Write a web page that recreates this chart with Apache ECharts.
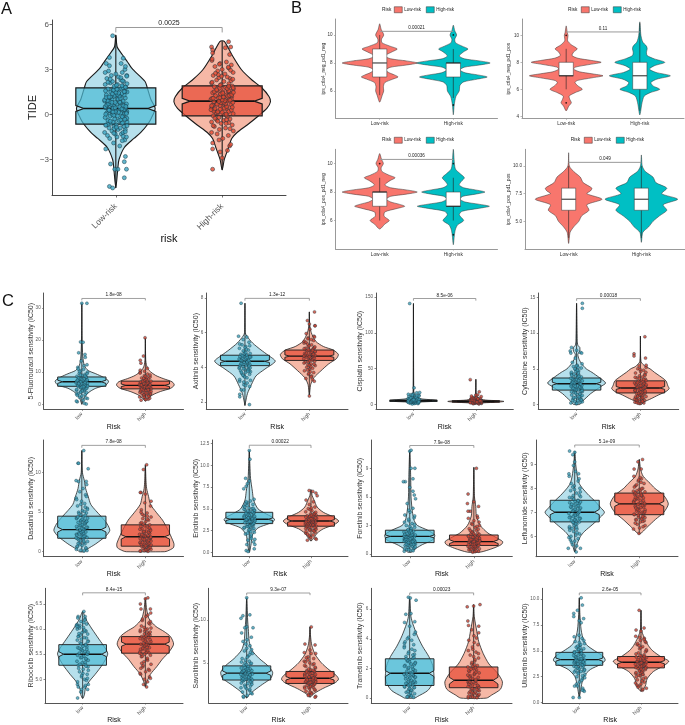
<!DOCTYPE html>
<html><head><meta charset="utf-8">
<style>html,body{margin:0;padding:0;background:#fff}#c{width:685px;height:725px}</style>
<script src="https://cdn.jsdelivr.net/npm/echarts@6/dist/echarts.min.js"></script>
</head><body><div id="c"></div>
<script>
const riskCats=['Low-risk','High-risk'], drugCats=['low','high'];
const jitter=[-.9,.35,-.2,.8,-.55,.1,.95,-.75,.5,-.05,-1,.65,-.35,.2,.85,-.6,.4,-.15,.75,-.85,.05,.55,-.45,1,-.25,.3,-.7,.9,-.1,.6,-.95,.15,-.5,.7,-.3,.45,-.8,.25,.98,-.4,0,.58,-.65,.82,-.18,.38,-.92];

// Panel A
const aLowShape=[[5.3,0],[4.5,.013],[4,.06],[3.5,.11],[3,.16],[2.2,.275],[1.8,.295],[1,.33],[.4,.37],[-.3,.33],[-.65,.3],[-1.2,.235],[-1.6,.17],[-2.2,.08],[-3,.03],[-3.5,.02],[-4.9,0]];
const aHighShape=[[4.88,.02],[4,.09],[3,.18],[2.3,.28],[1.8,.37],[1.2,.44],[.85,.454],[.4,.42],[-.1,.34],[-.7,.235],[-1.2,.14],[-1.6,.09],[-2.2,.06],[-3,.02],[-3.7,0]];
const aLowBox=[-4.9,-.65,.2,.4,.6,1.78,5.3], aHighBox=[-3.7,-.09,.71,.89,1.07,1.91,4.88];
const aLowPts=[-2.3,-2.1,-1.9,-1.7,-1.6,-1.5,-1.5,-1.4,-1.3,-1.3,-1.2,-1.2,-1.1,-1,-1,-.9,-.9,-.8,-.8,-.7,-.7,-.6,-.6,-.5,-.5,-.4,-.4,-.3,-.3,-.2,-.2,-.1,-.1,0,0,.1,.1,.15,.2,.2,.25,.3,.3,.35,.4,.4,.45,.5,.5,.55,.6,.6,.7,.7,.75,.8,.8,.9,.9,1,1,1.1,1.1,1.2,1.2,1.3,1.3,1.4,1.4,1.5,1.5,1.6,1.7,1.7,1.8,1.8,1.9,2,2,2.1,2.2,2.2,2.3,2.4,2.5,2.6,2.6,2.7,2.8,2.9,3];
const aLowCore=[-1.45,-1.15,-.95,-.85,-.75,-.65,-.55,-.45,-.35,-.25,-.15,-.05,.02,.08,.12,.18,.22,.28,.33,.38,.42,.47,.52,.58,.63,.68,.72,.78,.83,.87,.92,.97,1.03,1.08,1.13,1.18,1.23,1.28,1.33,1.38,1.43,1.48,1.53,1.58,1.63,1.68,1.73,1.78,1.83,1.88,1.95,2.05,2.15,2.25,2.35,2.45,2.55,-1.75,-1.25,-.72,-.32,.06,.44,.81,1.17,1.52,1.92,.16,.54];
const aLowTail=[[-.06,-4.8],[-.03,-4.9],[.08,-4.22],[.1,-3.65],[.08,-3.15],[.09,-2.8],[-.01,-3.65],[-.05,-3.3],[.02,-3.65],[-.03,5.25],[-.06,3.8],[-.09,3.4],[-.06,3.25],[.07,3.75],[.05,3.4],[-.1,2.8],[.09,3.2]];
const aHighPts=[-1.9,-1.6,-1.4,-1.3,-1.1,-1,-.9,-.8,-.7,-.6,-.55,-.5,-.4,-.35,-.3,-.2,-.15,-.1,0,.05,.1,.15,.2,.25,.3,.35,.4,.45,.5,.55,.6,.65,.7,.75,.8,.85,.9,.95,1,1.05,1.1,1.15,1.2,1.25,1.3,1.35,1.4,1.45,1.5,1.55,1.6,1.7,1.75,1.8,1.85,1.9,2,2.05,2.1,2.2,2.3,2.4,2.45,2.5,2.6,2.7,2.8,2.9,3,3.1,3.2,3.3,3.4,3.5,3.6,3.7];
const aHighCore=[-1.2,-.95,-.75,-.45,-.25,-.05,.03,.12,.22,.32,.42,.52,.62,.68,.72,.78,.82,.87,.92,.97,1.02,1.07,1.12,1.17,1.22,1.27,1.32,1.37,1.42,1.47,1.52,1.58,1.65,1.72,1.78,1.88,1.95,2.15,2.25,2.35,2.55,2.65,2.75,2.95,3.15,3.35,.48,.58,.95,1.08,.18,.38,-.35,-.6];
const aHighTail=[[-.09,-3.65],[-.09,-2.3],[.07,-2.1],[.08,-2],[.05,-2.4],[-.02,-2.5],[0,-2.9],[-.1,4.5],[-.09,4.3],[-.09,4.1],[.06,4.85],[.03,4.45],[.08,4.5],[.07,4],[-.03,-1.7]];

// Panel B
const b1LowShape=[[10.8,0],[10.4,.02],[10,.055],[9.7,.025],[9.45,.03],[9.2,.14],[9,.24],[8.8,.17],[8.5,.07],[8.3,.15],[8.15,.36],[8,.51],[7.85,.36],[7.7,.15],[7.5,.08],[7.3,.13],[7.15,.2],[7,.25],[6.85,.18],[6.6,.07],[6.3,.05],[6,.055],[5.7,.035],[5.2,0]];
const b1HighShape=[[10.7,0],[10.3,.02],[10,.045],[9.7,.02],[9.45,.03],[9.2,.12],[9,.2],[8.8,.14],[8.5,.08],[8.3,.15],[8.15,.35],[8,.5],[7.85,.35],[7.7,.15],[7.5,.09],[7.3,.16],[7.15,.33],[7,.46],[6.85,.33],[6.65,.14],[6.4,.09],[6,.08],[5.6,.035],[5,.012],[4.3,0]];
const b2LowShape=[[10.7,0],[10.2,.015],[10,.025],[9.6,.02],[9.3,.07],[9,.15],[8.75,.1],[8.5,.08],[8.3,.16],[8.15,.33],[8,.475],[7.85,.33],[7.65,.13],[7.5,.1],[7.3,.18],[7.15,.35],[7,.5],[6.85,.35],[6.65,.15],[6.5,.12],[6.25,.16],[6,.22],[5.75,.12],[5.5,.04],[5.25,.05],[5,.07],[4.75,.035],[4.4,0]];
const b2HighShape=[[11,0],[10,.015],[9.5,.04],[9.2,.09],[9,.1],[8.75,.09],[8.5,.1],[8.25,.2],[8,.34],[7.75,.2],[7.5,.13],[7.25,.22],[7,.415],[6.75,.23],[6.5,.15],[6.25,.18],[6,.27],[5.75,.14],[5.5,.06],[5,.03],[4.1,0]];
const b3LowShape=[[10.7,0],[10.3,.025],[10,.05],[9.7,.02],[9.45,.03],[9.2,.12],[9,.21],[8.8,.14],[8.5,.07],[8.3,.15],[8.15,.36],[8,.51],[7.85,.36],[7.7,.15],[7.5,.09],[7.3,.15],[7.15,.26],[7,.34],[6.85,.24],[6.6,.07],[6.3,.06],[6,.13],[5.75,.07],[5.4,0]];
const b3HighShape=[[11,0],[10,.015],[9.6,.03],[9.3,.09],[9,.15],[8.75,.11],[8.5,.08],[8.3,.14],[8.15,.3],[8,.43],[7.85,.3],[7.7,.13],[7.5,.09],[7.3,.16],[7.15,.34],[7,.49],[6.85,.34],[6.65,.12],[6.4,.08],[6,.14],[5.7,.06],[5.4,.03],[5,.015],[4.3,0]];
const b4LowShape=[[11.2,0],[10,.01],[9.5,.07],[9,.16],[8.5,.2],[8,.32],[7.75,.3],[7.5,.25],[7,.46],[6.5,.25],[6,.28],[5.5,.18],[5,.14],[4.5,.07],[4,.02],[3,0]];
const b4HighShape=[[11,0],[10,.012],[9.5,.055],[9,.16],[8.5,.2],[8,.35],[7.5,.28],[7,.5],[6.5,.3],[6,.35],[5.5,.25],[5,.16],[4.5,.1],[4,.02],[3.1,0]];
const b1LowBox=[5.7,7,8,9,10], b1HighBox=[5.5,7,8,8,9];
const b2LowBox=[6,7,7,8,9], b2HighBox=[4.4,6,7,8,10.9];
const b3LowBox=[6,7,8,8,9], b3HighBox=[6,7,7,8,9];
const b4LowBox=[3.5,6,7,8,10], b4HighBox=[3.5,6,7,8,10];
const b1HighOut=[10,5], b2LowOut=[10,5], b3LowOut=[10], b3HighOut=[10,5];

// Panel C
const c1LowShape=[[31.5,0],[20,.005],[15,.015],[12,.04],[10.5,.1],[9.5,.22],[8.5,.33],[7.5,.41],[7,.42],[6,.38],[5,.22],[4,.13],[3,.07],[2,.035],[.5,.01],[0,0]];
const c1HighShape=[[20.5,0],[14,.005],[12,.02],[10.5,.06],[9,.16],[8,.28],[7,.42],[6,.455],[5,.4],[4,.24],[3,.12],[2,.05],[1,0]];
const c1LowBox=[0,5.6,6.5,7,7.5,8.5,31.5], c1HighBox=[1,4.8,5.5,5.9,6.3,7.2,20.5];
const c1LowPts=[.3,.8,1.3,1.8,2.2,2.6,3,3.3,3.6,3.9,4.1,4.4,4.6,4.9,5.1,5.3,5.5,5.7,5.9,6.1,6.3,6.5,6.7,6.9,7.1,7.3,7.5,7.7,7.9,8.1,8.4,8.7,9,9.3,9.6,10,10.4,10.9,11.5,12.3,13.5,14.6];
const c1LowCore=[3.2,3.8,4.2,4.5,4.8,5,5.2,5.4,5.6,5.8,6,6.2,6.4,6.6,6.8,7,7.2,7.4,7.6,7.8,8,8.2,8.5,8.8,9.1,9.5,1,2,2.8,10.2,11,12,5.5,6.5,7.5];
const c1LowTail=[[0,31.4],[.08,31.4],[-.02,19.4],[.02,19.3],[-.05,16],[.05,15.5],[.07,.1]];
const c1HighPts=[1.3,1.6,2,2.3,2.6,2.8,3,3.2,3.4,3.6,3.8,4,4.1,4.3,4.5,4.6,4.8,4.9,5.1,5.2,5.4,5.5,5.7,5.8,6,6.1,6.3,6.4,6.6,6.8,7,7.2,7.4,7.6,7.9,8.2,8.5,8.9,9.4,10,10.6,11.2];
const c1HighCore=[1.9,2.5,2.9,3.3,3.7,3.9,4.2,4.4,4.7,5,5.3,5.6,5.9,6.2,6.5,6.7,6.9,7.1,7.3,7.5,7.8,8.1,8.4,8.7,9.1,9.7,2.2,3.5,4.5,5.5,6.05,10.3,1.5,4,6];
const c1HighTail=[[-.08,13.7],[-.07,12.8],[-.03,15],[-.005,20.7]];
const c2LowShape=[[7.7,0],[6,.005],[5.8,.03],[5.4,.12],[5,.25],[4.7,.36],[4.35,.47],[3.9,.31],[3.5,.17],[3,.1],[2.5,.04],[2,.01],[1.8,0]];
const c2HighShape=[[7.2,0],[6.5,.005],[6,.03],[5.5,.1],[5.2,.22],[5,.37],[4.75,.45],[4.5,.42],[4.2,.3],[3.8,.18],[3.4,.07],[3,.02],[2.4,0]];
const c2LowBox=[1.8,4.1,4.28,4.35,4.42,4.7,7.7], c2HighBox=[2.4,4.4,4.58,4.65,4.72,5,7.2];
const c2LowPts=[2.7,2.9,3,3.1,3.2,3.3,3.4,3.5,3.6,3.65,3.7,3.75,3.8,3.85,3.9,3.95,4,4.05,4.1,4.15,4.2,4.25,4.3,4.35,4.4,4.45,4.5,4.55,4.6,4.65,4.7,4.75,4.8,4.9,5,5.1,5.2,5.3,5.45,5.6];
const c2LowCore=[3.25,3.45,3.55,3.72,3.82,3.88,3.92,3.98,4.02,4.08,4.12,4.18,4.22,4.28,4.32,4.38,4.42,4.48,4.52,4.58,4.62,4.68,4.72,4.78,4.85,4.95,5.05,5.15,5.25,5.35,3.15,2.95,3.78,4.4,4.6];
const c2LowTail=[[.07,1.85],[-.08,2.3],[-.08,2.45],[-.02,2.7],[-.06,7.7],[-.1,5.8],[.03,5.75]];
const c2HighPts=[3.2,3.35,3.5,3.6,3.7,3.8,3.9,3.95,4,4.1,4.15,4.2,4.3,4.35,4.4,4.45,4.5,4.55,4.6,4.65,4.7,4.75,4.8,4.85,4.9,4.95,5,5.05,5.1,5.15,5.2,5.3,5.4,5.5,5.6,5.7,5.8,5.95,6.2,6.4];
const c2HighCore=[3.45,3.65,3.75,3.85,4.05,4.12,4.18,4.25,4.32,4.38,4.42,4.48,4.52,4.58,4.62,4.68,4.72,4.78,4.82,4.88,4.92,4.98,5.02,5.08,5.12,5.18,5.25,5.35,5.45,5.55,3.3,5.65,5.75,4.65,4.75];
const c2HighTail=[[.08,7.2],[-.03,6.7],[0,6.5],[.09,6.4],[0,2.35]];
const c3LowShape=[[141,0],[20,.005],[12,.02],[8,.1],[6,.33],[5,.38],[4,.3],[3,.1],[1,.02],[0,0]];
const c3HighShape=[[35,0],[15,.005],[9,.03],[6,.15],[5,.35],[4,.45],[3,.35],[2,.12],[.5,.01],[0,0]];
const c3LowBox=[0,4,4.6,5,5.4,6,141], c3HighBox=[0,3,3.6,4,4.4,5,35];
const c3LowPts=[.5,1,1.5,2,2.3,2.6,2.9,3.1,3.3,3.5,3.7,3.9,4.1,4.3,4.5,4.7,4.9,5.1,5.3,5.5,5.7,5.9,6.1,6.4,6.7,7,7.3,7.6,8,8.4,8.8,9.3,9.8,10.4,11,11.8,12.6,13.5,14.5,16];
const c3LowCore=[1.2,1.8,2.5,3,3.4,3.8,4,4.2,4.4,4.6,4.8,5,5.2,5.4,5.6,5.8,6,6.2,6.5,6.9,7.5,8.2,9,10,11.5,12,13,14,2.2,3.6];
const c3LowTail=[[-.06,141],[.01,23],[.1,16.5]];
const c3HighPts=[.5,1,1.3,1.6,1.9,2.2,2.4,2.6,2.8,3,3.2,3.4,3.6,3.8,4,4.2,4.4,4.6,4.8,5,5.2,5.4,5.7,6,6.3,6.6,7,7.5,8,8.6,9.2,10,10.8];
const c3HighCore=[1.1,1.5,2,2.5,2.7,2.9,3.1,3.3,3.5,3.7,3.9,4.1,4.3,4.5,4.7,4.9,5.1,5.5,5.9,6.5,7.2,7.8,8.8,9.6,2.3,3.2];
const c3HighTail=[[-.09,34.5],[-.07,11.5],[.03,13.5],[.055,17.5],[0,13]];
const c4LowShape=[[14.2,0],[9,.01],[8.3,.02],[8,.05],[7.5,.05],[7,.02],[6.3,.04],[5.7,.08],[5,.15],[4.5,.24],[3.8,.35],[3,.455],[2.5,.38],[2,.3],[1.5,.22],[1,.16],[.5,.1],[0,.05]];
const c4HighShape=[[9.6,0],[6,.01],[5.3,.08],[5,.15],[4.5,.22],[4,.3],[3.3,.4],[2.6,.43],[2.2,.45],[1.8,.4],[1.3,.28],[.8,.17],[.3,.05],[0,.02]];
const c4LowBox=[0,2,2.7,2.9,3.1,3.7,14.2], c4HighBox=[0,1.6,2.1,2.3,2.5,3.3,9.6];
const c4LowPts=[.1,.2,.3,.4,.5,.65,.8,.9,1,1.15,1.3,1.4,1.5,1.65,1.8,1.9,2,2.1,2.2,2.3,2.4,2.5,2.6,2.7,2.8,2.9,3,3.1,3.2,3.3,3.4,3.5,3.6,3.7,3.85,4,4.15,4.3,4.5,4.7,4.9,5.1,5.3,5.5,5.7,5.9];
const c4LowCore=[.15,.35,.55,.75,.95,1.05,1.25,1.45,1.6,1.75,1.85,1.95,2.05,2.15,2.25,2.35,2.45,2.55,2.65,2.75,2.85,2.95,3.05,3.15,3.25,3.35,3.45,3.55,3.65,3.8,3.95,4.1,4.25,4.4,4.6,4.8,5,5.2,5.4,.6];
const c4LowTail=[[.09,14.2],[.09,13.5],[-.08,8],[-.1,7.5],[-.09,7.2],[0,7.6],[.06,7.3],[.08,7.2],[-.02,6.5]];
const c4HighPts=[.1,.2,.3,.4,.5,.6,.7,.8,.9,1,1.1,1.2,1.3,1.4,1.5,1.6,1.7,1.8,1.9,2,2.1,2.2,2.3,2.4,2.5,2.6,2.7,2.8,2.9,3,3.1,3.25,3.4,3.55,3.7,3.85,4,4.2,4.4,4.6,4.8,5,5.2];
const c4HighCore=[.15,.25,.35,.45,.55,.65,.75,.85,.95,1.05,1.15,1.25,1.35,1.45,1.55,1.65,1.75,1.85,1.95,2.05,2.15,2.25,2.35,2.45,2.55,2.65,2.75,2.85,2.95,3.05,3.2,3.35,3.5,3.65,3.8,4.1,4.5,4.9];
const c4HighTail=[[.07,9.5],[-.1,7.1],[-.1,6.8],[.08,6.5],[.09,5.5],[-.02,5.4]];
const c5LowShape=[[12.8,0],[10,.01],[9,.04],[8,.06],[7,.1],[6,.14],[5.2,.22],[4.5,.3],[3.5,.4],[2.7,.44],[2,.38],[1,.22],[.3,.08],[0,.04]];
const c5HighShape=[[11,0],[9,.01],[8,.02],[7,.05],[6,.08],[5,.17],[4,.27],[3,.34],[2,.4],[1,.45],[.5,.44],[.1,.35],[0,.3]];
const c5LowBox=[0,1.7,2.5,2.8,3.1,4.5,12.8], c5HighBox=[0,.7,1.6,1.9,2.15,3.4,11];
const c5LowPts=[.1,.2,.4,.6,.8,1,1.1,1.3,1.4,1.6,1.7,1.8,1.9,2,2.2,2.3,2.4,2.5,2.7,2.8,2.9,3,3.1,3.3,3.4,3.5,3.7,3.8,3.9,4,4.2,4.3,4.5,4.7,4.9,5,5.2,5.5,5.8,6.1,6.4,6.8,7.2,7.6,8,8.5,8.9];
const c5LowCore=[.15,.3,.5,.7,.9,1.05,1.2,1.35,1.5,1.65,1.75,1.85,1.95,2.1,2.25,2.35,2.45,2.6,2.75,2.85,2.95,3.05,3.2,3.35,3.45,3.6,3.75,3.85,3.95,4.1,4.25,4.4,4.6,4.8,5.1,5.35,5.65,6,6.6,7];
const c5LowTail=[[.03,12.8],[-.06,11.2],[-.05,11.2],[.1,10.5],[-.09,9],[.07,8.9]];
const c5HighPts=[.05,.1,.2,.3,.4,.5,.6,.7,.8,.9,1,1.1,1.2,1.3,1.4,1.5,1.6,1.7,1.8,1.9,2,2.1,2.2,2.4,2.5,2.6,2.8,2.9,3.1,3.3,3.4,3.6,3.8,4,4.2,4.4,4.6,4.9,5.3,5.8,6.2];
const c5HighCore=[.08,.15,.25,.35,.45,.55,.65,.75,.85,.95,1.05,1.15,1.25,1.35,1.45,1.55,1.65,1.75,1.85,1.95,2.05,2.15,2.3,2.45,2.55,2.7,2.85,3,3.2,3.5,3.7,4.1,4.5,4.75,5];
const c5HighTail=[[-.07,7.5],[-.08,7.5],[.09,6.4],[0,7.3],[-.03,10.4],[.02,11]];
const c6LowShape=[[11.7,0],[10,.01],[8.5,.02],[7,.05],[6,.07],[5,.14],[4.5,.25],[4,.38],[3.7,.41],[3.3,.32],[2.8,.14],[2,.05],[1,.03],[.2,.01],[0,0]];
const c6HighShape=[[7.2,0],[6.5,.02],[6,.05],[5.2,.1],[4.6,.2],[4.1,.35],[3.6,.45],[3.2,.38],[2.7,.2],[2.2,.1],[1.7,.05],[1.3,0]];
const c6LowBox=[0,3.3,3.65,3.8,3.95,4.6,11.7], c6HighBox=[1.3,3,3.45,3.6,3.75,4.2,7.2];
const c6LowPts=[.9,1.4,1.8,2.1,2.3,2.5,2.7,2.8,2.9,3,3.1,3.2,3.3,3.4,3.5,3.6,3.7,3.75,3.8,3.85,3.9,4,4.05,4.1,4.2,4.3,4.4,4.5,4.6,4.7,4.8,4.9,5,5.1,5.3,5.5,5.7,5.9,6.1];
const c6LowCore=[2.2,2.4,2.6,2.75,2.85,2.95,3.05,3.15,3.25,3.35,3.45,3.55,3.62,3.68,3.72,3.78,3.82,3.88,3.92,3.97,4.02,4.08,4.15,4.25,4.35,4.45,4.55,4.65,4.75,4.85,4.95,5.05,5.2,5.4,5.6,1.6,2,5.8];
const c6LowTail=[[0,11.7],[.01,10.7],[-.06,8.5],[0,8.2],[-.05,7.6],[-.09,7.3],[-.03,7.9],[.08,.4],[-.05,.2],[-.02,.1],[-.04,.9],[.07,1.2],[.09,1.5]];
const c6HighPts=[1.4,1.6,1.8,2,2.2,2.4,2.5,2.6,2.7,2.8,2.9,3,3.05,3.1,3.15,3.2,3.3,3.35,3.4,3.45,3.5,3.55,3.6,3.65,3.7,3.75,3.8,3.85,3.9,4,4.1,4.2,4.3,4.4,4.5,4.65,4.8,5,5.2,5.5,5.8];
const c6HighCore=[1.5,1.7,1.9,2.1,2.3,2.45,2.55,2.65,2.75,2.85,2.95,3.02,3.08,3.12,3.18,3.25,3.32,3.38,3.42,3.48,3.52,3.58,3.62,3.68,3.72,3.78,3.82,3.88,3.95,4.05,4.15,4.25,4.35,4.45,4.6,4.9,5.1];
const c6HighTail=[[-.03,7.1],[.03,7],[.1,6.5],[-.08,6],[.08,6.8]];
const c7LowShape=[[10.8,0],[8,.015],[6,.02],[4.5,.04],[3.5,.07],[3,.12],[2.5,.28],[2,.39],[1.5,.36],[1,.2],[.6,.1],[.2,.03]];
const c7HighShape=[[9.1,0],[6,.01],[5,.03],[4,.04],[3,.1],[2.2,.22],[1.8,.33],[1.3,.45],[1,.43],[.6,.3],[.2,.1]];
const c7LowBox=[.2,1.2,1.7,1.85,2,2.5,10.8], c7HighBox=[.2,.9,1.1,1.3,1.5,2,9.1];
const c7LowPts=[.3,.4,.5,.6,.7,.8,.9,1,1.05,1.1,1.2,1.25,1.3,1.4,1.45,1.5,1.55,1.6,1.7,1.75,1.8,1.85,1.9,2,2.05,2.1,2.2,2.3,2.4,2.5,2.6,2.8,3,3.2,3.5,3.8,4.1,4.4,4.8,5.3,5.8];
const c7LowCore=[.35,.45,.55,.65,.75,.85,.95,1.02,1.08,1.15,1.22,1.28,1.35,1.42,1.48,1.52,1.58,1.65,1.72,1.78,1.82,1.88,1.95,2.02,2.08,2.15,2.25,2.35,2.45,2.55,2.7,2.9,3.1,3.35,3.65,1.6,1.3,1,4,4.6];
const c7LowTail=[[0,10.8],[.02,10.9],[.02,9],[.08,9],[-.07,7.6],[-.1,7.6],[.05,7.9],[.07,6.2],[0,7],[.05,6.6]];
const c7HighPts=[.2,.3,.4,.5,.55,.6,.7,.75,.8,.85,.9,.95,1,1.05,1.1,1.15,1.2,1.25,1.3,1.35,1.4,1.45,1.5,1.55,1.6,1.7,1.75,1.8,1.9,2,2.1,2.2,2.35,2.5,2.65,2.8,3,3.2,3.5,4,4.5,5];
const c7HighCore=[.25,.35,.45,.52,.58,.65,.72,.78,.82,.88,.92,.98,1.02,1.08,1.12,1.18,1.22,1.28,1.32,1.38,1.42,1.48,1.52,1.58,1.65,1.72,1.78,1.85,1.95,2.05,2.15,2.3,2.45,2.6,2.9,3.1,3.35,3.75];
const c7HighTail=[[.04,9],[-.09,6.3],[-.1,5.3],[0,5.5],[-.09,4.5],[.06,3.8]];
const c8LowShape=[[9.55,0],[9,.015],[8.5,.04],[8.2,.07],[8,.12],[7.7,.22],[7.5,.3],[7.2,.4],[7,.46],[6.8,.4],[6.5,.28],[6.2,.15],[6,.09],[5.7,.04],[5.4,.01],[5.35,0]];
const c8HighShape=[[9.2,0],[8.8,.02],[8.5,.06],[8.2,.17],[8,.24],[7.7,.38],[7.35,.45],[7,.38],[6.7,.25],[6.4,.13],[6.1,0]];
const c8LowBox=[5.35,6.6,6.9,7,7.12,7.5,9.55], c8HighBox=[6.1,6.9,7.25,7.35,7.45,7.8,9.2];
const c8LowPts=[5.35,5.5,5.65,5.8,5.9,6,6.1,6.2,6.3,6.35,6.4,6.5,6.55,6.6,6.65,6.7,6.75,6.8,6.85,6.9,6.95,7,7.05,7.1,7.15,7.2,7.25,7.3,7.35,7.4,7.45,7.5,7.6,7.65,7.7,7.8,7.9,8,8.1,8.3,8.5,8.7];
const c8LowCore=[5.6,5.75,5.85,5.95,6.05,6.15,6.25,6.33,6.38,6.45,6.52,6.58,6.63,6.68,6.73,6.78,6.83,6.88,6.93,6.98,7.03,7.08,7.13,7.18,7.23,7.28,7.33,7.38,7.43,7.48,7.55,7.62,7.72,7.85,7.95,8.05,8.2,8.4];
const c8LowTail=[[-.08,9.55],[-.03,9.4],[0,9.5],[-.09,8.6],[.06,8.6],[-.02,8.95],[0,9.1],[-.1,5.5]];
const c8HighPts=[6.12,6.3,6.4,6.5,6.6,6.65,6.7,6.75,6.8,6.85,6.9,6.95,7,7.05,7.1,7.15,7.2,7.25,7.3,7.35,7.4,7.45,7.5,7.55,7.6,7.65,7.7,7.75,7.8,7.85,7.9,7.95,8,8.1,8.2,8.3,8.4,8.5];
const c8HighCore=[6.35,6.45,6.55,6.62,6.68,6.72,6.78,6.82,6.88,6.92,6.98,7.02,7.08,7.12,7.18,7.22,7.28,7.32,7.38,7.42,7.48,7.52,7.58,7.62,7.68,7.72,7.78,7.82,7.88,7.92,7.98,8.05,8.15,8.25,8.35,8.45];
const c8HighTail=[[.05,9.2],[-.08,8.8],[.03,8.8],[-.02,9.1]];
const c9LowShape=[[6.35,0],[6.2,.05],[6,.15],[5.8,.26],[5.6,.37],[5.5,.4],[5.3,.32],[5.1,.2],[4.95,.1],[4.8,.04],[4.7,.03],[4.62,0]];
const c9HighShape=[[6.62,0],[6.4,.02],[6.2,.06],[6.05,.17],[5.95,.3],[5.85,.4],[5.7,.45],[5.55,.38],[5.4,.27],[5.25,.18],[5.1,.08],[4.95,.025],[4.85,0]];
const c9LowBox=[4.62,5.28,5.45,5.5,5.55,5.69,6.35], c9HighBox=[4.85,5.52,5.66,5.7,5.74,5.85,6.62];
const c9LowPts=[4.8,4.85,4.9,4.95,5,5.05,5.1,5.15,5.2,5.25,5.28,5.3,5.33,5.36,5.4,5.43,5.46,5.5,5.52,5.55,5.58,5.6,5.63,5.66,5.7,5.73,5.76,5.8,5.83,5.86,5.9,5.93,5.96,6,6.03,6.07,6.1,6.15,6.2,6.25];
const c9LowCore=[4.88,4.98,5.02,5.08,5.12,5.18,5.22,5.26,5.3,5.34,5.38,5.41,5.44,5.48,5.51,5.54,5.57,5.6,5.62,5.65,5.68,5.71,5.75,5.78,5.82,5.85,5.88,5.91,5.95,5.98,6.02,6.05,6.09,6.13,6.18,6.22];
const c9LowTail=[[-.08,4.63],[.02,6.35],[.04,6.25],[-.07,4.85],[.08,4.8],[-.03,4.75],[.09,4.9],[-.1,6.07],[-.09,6.05]];
const c9HighPts=[4.95,5,5.05,5.1,5.15,5.2,5.25,5.3,5.35,5.4,5.45,5.48,5.5,5.53,5.55,5.58,5.6,5.63,5.65,5.68,5.7,5.72,5.75,5.78,5.8,5.83,5.85,5.88,5.9,5.93,5.95,5.98,6,6.03,6.1,6.17,6.25,6.32];
const c9HighCore=[5.02,5.12,5.18,5.22,5.28,5.32,5.38,5.42,5.46,5.5,5.52,5.54,5.57,5.6,5.62,5.64,5.67,5.69,5.71,5.74,5.76,5.79,5.81,5.84,5.86,5.89,5.91,5.94,5.96,5.99,6.02,6.06,6.12,6.2,6.28];
const c9HighTail=[[.04,6.62],[0,6.6],[-.08,6.5],[.08,6.4],[-.07,6.4],[.08,6.15],[-.03,4.9],[.02,4.85]];
const c10LowShape=[[12.6,0],[10,.015],[9,.025],[7.5,.04],[6.5,.08],[5.5,.2],[4.7,.33],[3.9,.41],[3.2,.38],[2.5,.25],[1.8,.12],[1.2,.03],[.9,0]];
const c10HighShape=[[9.2,0],[8,.01],[7,.03],[6,.08],[5,.18],[4.2,.3],[3.5,.42],[3.1,.45],[2.7,.4],[2,.2],[1.4,.06],[1,0]];
const c10LowBox=[.9,3,3.55,3.8,4.05,4.65,12.6], c10HighBox=[1,2.6,3,3.2,3.4,4,9.2];
const c10LowPts=[1,1.2,1.4,1.6,1.8,2,2.1,2.3,2.4,2.6,2.7,2.9,3,3.1,3.2,3.3,3.4,3.5,3.6,3.7,3.8,3.9,4,4.1,4.2,4.3,4.4,4.5,4.7,4.9,5,5.2,5.5,5.8,6.1,6.4,6.7,7,7.5,8];
const c10LowCore=[1.1,1.5,1.9,2.2,2.5,2.65,2.8,2.95,3.05,3.15,3.25,3.35,3.45,3.55,3.65,3.75,3.85,3.95,4.05,4.15,4.25,4.35,4.45,4.6,4.8,4.95,5.1,5.35,5.65,5.95,6.25,6.55,7.2,7.7,3,4,3.6,4.1];
const c10LowTail=[[0,12.6],[-.09,10.2],[-.06,10.5],[.05,10.6],[0,9.2],[.1,9.1],[-.03,9.1],[-.08,8.5]];
const c10HighPts=[1.1,1.3,1.5,1.7,1.8,2,2.1,2.2,2.3,2.4,2.5,2.6,2.7,2.75,2.8,2.9,3,3.05,3.1,3.2,3.3,3.4,3.5,3.6,3.7,3.8,3.9,4,4.1,4.2,4.4,4.6,4.8,5,5.2,5.5,5.7,6.1];
const c10HighCore=[1.2,1.4,1.6,1.9,2.05,2.15,2.25,2.35,2.45,2.55,2.65,2.72,2.78,2.85,2.95,3.02,3.08,3.15,3.25,3.35,3.45,3.55,3.65,3.75,3.85,3.95,4.05,4.15,4.3,4.5,4.7,4.9,5.1,5.35,5.6];
const c10HighTail=[[.02,9.2],[-.08,7.2],[.08,7.1],[-.09,6.2],[.09,6.1],[0,6.5],[.08,1]];
const c11LowShape=[[6.8,0],[5.5,.02],[5,.05],[4.2,.12],[3.5,.2],[2.8,.3],[2.2,.36],[1.5,.38],[1,.36],[.5,.28],[.1,.12],[0,.08]];
const c11HighShape=[[6.3,0],[5.5,.01],[4.5,.05],[3.8,.08],[3,.15],[2.3,.24],[1.7,.37],[1.1,.45],[.6,.42],[.2,.28],[0,.2]];
const c11LowBox=[0,.85,1.45,1.67,1.85,2.65,6.8], c11HighBox=[0,.7,.95,1.2,1.4,2.1,6.3];
const c11LowPts=[.05,.1,.2,.3,.4,.5,.6,.7,.75,.8,.9,1,1.05,1.1,1.2,1.3,1.4,1.45,1.5,1.6,1.7,1.8,1.9,2,2.1,2.2,2.3,2.4,2.5,2.6,2.7,2.8,2.95,3.1,3.3,3.5,3.7,3.9,4.1,4.3];
const c11LowCore=[.08,.15,.25,.35,.45,.55,.65,.72,.78,.85,.95,1.02,1.08,1.15,1.25,1.35,1.42,1.48,1.55,1.65,1.75,1.85,1.95,2.05,2.15,2.25,2.35,2.45,2.55,2.65,2.75,2.9,3,3.2,3.4,3.6,3.8,4,1,1.6];
const c11LowTail=[[-.02,6.8],[.01,6.75],[.1,6.6],[-.06,5.65],[.02,5.7],[-.08,5.1],[.08,5.15],[0,4.85],[.09,4.45]];
const c11HighPts=[.02,.05,.1,.15,.2,.3,.35,.4,.5,.55,.6,.7,.75,.8,.9,1,1.05,1.1,1.2,1.3,1.4,1.5,1.6,1.7,1.8,1.9,2,2.1,2.2,2.3,2.5,2.7,2.9,3.1,3.3,3.6,3.9,4.2];
const c11HighCore=[.03,.08,.12,.18,.25,.32,.38,.45,.52,.58,.65,.72,.78,.85,.95,1.02,1.08,1.15,1.25,1.35,1.45,1.55,1.65,1.75,1.85,1.95,2.05,2.15,2.25,2.4,2.6,2.8,3,3.2,3.45,3.75,4.05];
const c11HighTail=[[0,6.2],[.1,6.3],[-.1,6.15],[-.09,5.2],[-.08,4.9],[.08,4.85],[.08,4.4],[-.03,4.6]];
const c12LowShape=[[10.1,0],[8.5,.01],[7,.03],[6,.07],[5.5,.13],[5,.25],[4.5,.38],[4.1,.42],[3.7,.35],[3.2,.18],[2.5,.07],[1.5,.03],[.6,.005],[.5,0]];
const c12HighShape=[[8.9,0],[7,.01],[6.3,.05],[5.5,.12],[5,.19],[4.4,.33],[4,.45],[3.6,.38],[3,.2],[2.3,.1],[1.6,.07],[1.1,0]];
const c12LowBox=[.5,3.6,4,4.15,4.3,4.85,10.1], c12HighBox=[1.1,3.35,3.75,3.9,4.05,4.45,8.9];
const c12LowPts=[1.2,1.6,2,2.3,2.5,2.7,2.9,3,3.1,3.2,3.3,3.4,3.5,3.6,3.7,3.75,3.8,3.9,3.95,4,4.1,4.15,4.2,4.3,4.4,4.5,4.6,4.7,4.8,4.9,5,5.1,5.2,5.35,5.5,5.7,5.9,6.2,6.5];
const c12LowCore=[1.4,1.8,2.15,2.4,2.6,2.8,2.95,3.05,3.15,3.25,3.35,3.45,3.55,3.65,3.72,3.78,3.85,3.92,3.98,4.05,4.12,4.18,4.25,4.35,4.45,4.55,4.65,4.75,4.85,4.95,5.05,5.15,5.3,5.45,5.6,5.8,6,6.35];
const c12LowTail=[[.03,10.1],[.05,9.4],[-.03,8.9],[-.09,8.6],[-.09,8.3],[.07,8.1],[0,7.9],[.03,7.7],[-.1,.5],[0,.5],[.08,1.1],[-.03,1.6],[.05,1.2]];
const c12HighPts=[1.2,1.4,1.6,1.8,2,2.2,2.4,2.6,2.7,2.8,2.9,3,3.1,3.2,3.3,3.35,3.4,3.5,3.55,3.6,3.7,3.75,3.8,3.9,3.95,4,4.1,4.2,4.3,4.4,4.5,4.6,4.8,5,5.2,5.4,5.6,5.8,6,6.2,6.4];
const c12HighCore=[1.3,1.5,1.7,1.9,2.1,2.3,2.5,2.65,2.75,2.85,2.95,3.05,3.15,3.25,3.32,3.38,3.45,3.52,3.58,3.65,3.72,3.78,3.85,3.92,3.98,4.05,4.15,4.25,4.35,4.45,4.55,4.7,4.9,5.1,5.3,5.5,5.7,5.9,6.1,6.3];
const c12HighTail=[[-.03,8.9],[-.08,7],[.05,7.2],[0,6.9]];

const styles={
 A:{boxW:.376,violinLow:'#b6e0ec',violinHigh:'#f6b8a6',boxLow:'rgba(77,187,213,.72)',boxHigh:'rgba(230,75,53,.72)',ptLow:'#3ba3bf',ptHigh:'#e2482f',edge:'#1a1a1a',vW:1.1,bW:1.2,mW:1.6,ps:4,pb:.6,jit:.105,
    tickFont:8,tickColor:'#555',nameFont:11,nameColor:'#222',xFont:8.5,rot:45,axis:'#333',axW:.9,pFont:7,brk:'#999',brkW:1,xGap:38,tick:2.5,cats:riskCats,labMargin:9},
 B:{boxW:.097,violinLow:'#F8766D',violinHigh:'#00BFC4',boxLow:'#fff',boxHigh:'#fff',edge:'#333',vW:.5,bW:.5,mW:1,
    tickFont:4.6,tickColor:'#333',nameFont:4.9,nameColor:'#333',xFont:4.8,rot:0,axis:'#999',axW:1,pFont:4.6,brk:'#999',brkW:1,xGap:0,tick:1.5,cats:riskCats,labMargin:2},
 C:{boxW:.38,violinLow:'#b6e0ec',violinHigh:'#f6b8a6',boxLow:'rgba(77,187,213,.72)',boxHigh:'rgba(230,75,53,.72)',ptLow:'#3d9cb5',ptHigh:'#c8412f',edge:'#1a1a1a',vW:.75,bW:.9,mW:1.4,ps:3,pb:.45,jit:.09,
    tickFont:4.6,tickColor:'#555',nameFont:7,nameColor:'#333',xFont:5.4,rot:45,axis:'#555',axW:1,pFont:4.8,brk:'#888',brkW:.8,xGap:14,tick:1.5,cats:drugCats,labMargin:3}
};

const P=(low,high)=>({low,high});
const panels=[
 {k:'A',l:52,t:20,r:286,b:195,y:[-5.37,6.3],ticks:[-3,0,3,6],labels:['\u22123','0','3','6'],name:'TIDE',xname:'risk',p:'0.0025',brk:[5.8,5.47],yGap:14,
  ...P({s:aLowShape,b:aLowBox,p:aLowPts,c:aLowCore,t:aLowTail},{s:aHighShape,b:aHighBox,p:aHighPts,c:aHighCore,t:aHighTail})},
 {k:'B',l:335.5,t:19,r:497.5,b:118.3,y:[4.05,11.14],ticks:[6,8,10],labels:['6','8','10'],name:'ips_ctla4_neg_pd1_neg',p:'0.00021',brk:[10.26,10.26],leg:[382,394],yGap:9.5,
  ...P({s:b1LowShape,b:b1LowBox,o:[]},{s:b1HighShape,b:b1HighBox,o:b1HighOut})},
 {k:'B',l:522,t:19,r:684,b:118.3,y:[3.85,11.21],ticks:[4,6,8,10],labels:['4','6','8','10'],name:'ips_ctla4_neg_pd1_pos',p:'0.11',brk:[10.25,10.25],leg:[568,581],yGap:10.5,
  ...P({s:b2LowShape,b:b2LowBox,o:b2LowOut},{s:b2HighShape,b:b2HighBox,o:[]})},
 {k:'B',l:335.5,t:149.3,r:497.5,b:249,y:[4,11],ticks:[6,8,10],labels:['6','8','10'],name:'ips_ctla4_pos_pd1_neg',p:'0.00036',brk:[10.29,10.29],leg:[382,394],legTop:137,yGap:9.5,
  ...P({s:b3LowShape,b:b3LowBox,o:b3LowOut},{s:b3HighShape,b:b3HighBox,o:b3HighOut})},
 {k:'B',l:525,t:149.3,r:685,b:249,y:[2.5,11.51],ticks:[5,7.5,10],labels:['5.0','7.5','10.0'],name:'ips_ctla4_pos_pd1_pos',p:'0.049',brk:[10.33,10.33],leg:[570.7,584],legTop:137,yGap:13.5,
  ...P({s:b4LowShape,b:b4LowBox,o:[]},{s:b4HighShape,b:b4HighBox,o:[]})},
 {k:'C',l:43.7,t:293,r:183.5,b:409.3,y:[-1.55,34.6],ticks:[0,10,20,30],labels:['0','10','20','30'],name:'5-Fluorouracil sensitivity (IC50)',xname:'Risk',p:'1.8e-08',brk:[32.9,32.3],yGap:9.5,
  ...P({s:c1LowShape,b:c1LowBox,p:c1LowPts,c:c1LowCore,t:c1LowTail},{s:c1HighShape,b:c1HighBox,p:c1HighPts,c:c1HighCore,t:c1HighTail})},
 {k:'C',l:206.3,t:293,r:348,b:409.3,y:[1.58,8.29],ticks:[2,4,6,8],labels:['2','4','6','8'],name:'Axitinib sensitivity (IC50)',xname:'Risk',p:'1.3e-12',brk:[7.98,7.85],yGap:7,
  ...P({s:c2LowShape,b:c2LowBox,p:c2LowPts,c:c2LowCore,t:c2LowTail},{s:c2HighShape,b:c2HighBox,p:c2HighPts,c:c2HighCore,t:c2HighTail})},
 {k:'C',l:376,t:293,r:513.3,b:409.3,y:[-7,155.7],ticks:[0,50,100,150],labels:['0','50','100','150'],name:'Cisplatin sensitivity (IC50)',xname:'Risk',p:'8.5e-06',brk:[148,145],yGap:12.5,
  ...P({s:c3LowShape,b:c3LowBox,p:c3LowPts,c:c3LowCore,t:c3LowTail},{s:c3HighShape,b:c3HighBox,p:c3HighPts,c:c3HighCore,t:c3HighTail})},
 {k:'C',l:538.3,t:293,r:678.7,b:409.3,y:[-.7,15.65],ticks:[0,5,10,15],labels:['0','5','10','15'],name:'Cytarabine sensitivity (IC50)',xname:'Risk',p:'0.00018',brk:[14.86,14.55],yGap:9.5,
  ...P({s:c4LowShape,b:c4LowBox,p:c4LowPts,c:c4LowCore,t:c4LowTail},{s:c4HighShape,b:c4HighBox,p:c4HighPts,c:c4HighCore,t:c4HighTail})},
 {k:'C',l:43.7,t:440,r:183.5,b:556.7,y:[-.63,14.14],ticks:[0,5,10],labels:['0','5','10'],name:'Dasatinib sensitivity (IC50)',xname:'Risk',p:'7.8e-08',brk:[13.46,13.16],yGap:9.5,
  ...P({s:c5LowShape,b:c5LowBox,p:c5LowPts,c:c5LowCore,t:c5LowTail},{s:c5HighShape,b:c5HighBox,p:c5HighPts,c:c5HighCore,t:c5HighTail})},
 {k:'C',l:212.3,t:440,r:348,b:556.7,y:[-.5,12.9],ticks:[0,2.5,5,7.5,10,12.5],labels:['0.0','2.5','5.0','7.5','10.0','12.5'],name:'Erlotinib sensitivity (IC50)',xname:'Risk',p:'0.00022',brk:[12.3,11.98],yGap:13,
  ...P({s:c6LowShape,b:c6LowBox,p:c6LowPts,c:c6LowCore,t:c6LowTail},{s:c6HighShape,b:c6HighBox,p:c6HighPts,c:c6HighCore,t:c6HighTail})},
 {k:'C',l:371.3,t:440,r:512.3,b:556.7,y:[-.28,11.97],ticks:[0,3,6,9],labels:['0','3','6','9'],name:'Foretinib sensitivity (IC50)',xname:'Risk',p:'7.9e-08',brk:[11.39,11.15],yGap:7.8,
  ...P({s:c7LowShape,b:c7LowBox,p:c7LowPts,c:c7LowCore,t:c7LowTail},{s:c7HighShape,b:c7HighBox,p:c7HighPts,c:c7HighCore,t:c7HighTail})},
 {k:'C',l:536,t:440,r:678,b:556.7,y:[5.15,10.01],ticks:[6,7,8,9],labels:['6','7','8','9'],name:'Leflunomide sensitivity (IC50)',xname:'Risk',p:'5.1e-09',brk:[9.8,9.7],yGap:7.5,
  ...P({s:c8LowShape,b:c8LowBox,p:c8LowPts,c:c8LowCore,t:c8LowTail},{s:c8HighShape,b:c8HighBox,p:c8HighPts,c:c8HighCore,t:c8HighTail})},
 {k:'C',l:45,t:588.3,r:183,b:704.3,y:[4.53,6.81],ticks:[5,5.5,6,6.5],labels:['5.0','5.5','6.0','6.5'],name:'Ribociclib sensitivity (IC50)',xname:'Risk',p:'8.4e-15',brk:[6.72,6.67],yGap:10.8,
  ...P({s:c9LowShape,b:c9LowBox,p:c9LowPts,c:c9LowCore,t:c9LowTail},{s:c9HighShape,b:c9HighBox,p:c9HighPts,c:c9HighCore,t:c9HighTail})},
 {k:'C',l:208.7,t:588.3,r:348,b:704.3,y:[.32,13.7],ticks:[5,10],labels:['5','10'],name:'Savolitinib sensitivity (IC50)',xname:'Risk',p:'9.3e-07',brk:[13.15,12.9],yGap:9.5,
  ...P({s:c10LowShape,b:c10LowBox,p:c10LowPts,c:c10LowCore,t:c10LowTail},{s:c10HighShape,b:c10HighBox,p:c10HighPts,c:c10HighCore,t:c10HighTail})},
 {k:'C',l:371.3,t:588.3,r:512,b:704.3,y:[-.33,7.4],ticks:[0,2,4,6],labels:['0','2','4','6'],name:'Trametinib sensitivity (IC50)',xname:'Risk',p:'0.00023',brk:[7.09,6.93],yGap:7.8,
  ...P({s:c11LowShape,b:c11LowBox,p:c11LowPts,c:c11LowCore,t:c11LowTail},{s:c11HighShape,b:c11HighBox,p:c11HighPts,c:c11HighCore,t:c11HighTail})},
 {k:'C',l:542.3,t:588.3,r:678,b:704.3,y:[-.03,11.02],ticks:[0,2.5,5,7.5,10],labels:['0.0','2.5','5.0','7.5','10.0'],name:'Ulixertinib sensitivity (IC50)',xname:'Risk',p:'2.6e-05',brk:[10.57,10.35],yGap:13.8,
  ...P({s:c12LowShape,b:c12LowBox,p:c12LowPts,c:c12LowCore,t:c12LowTail},{s:c12HighShape,b:c12HighBox,p:c12HighPts,c:c12HighCore,t:c12HighTail})}
];

const FONT='"Liberation Sans",Arial,sans-serif';
const grid=[],xAxis=[],yAxis=[],series=[],legend=[],graphic=[];

function violinPts(api,cx,shape){
  const right=shape.map(d=>api.coord([cx+d[1],d[0]]));
  const left=shape.slice().reverse().map(d=>api.coord([cx-d[1],d[0]]));
  const out=right.slice();
  left.forEach(p=>{
    const prev=out[out.length-1];
    if(Math.abs(prev[0]-p[0])>.01||Math.abs(prev[1]-p[1])>.01) out.push(p);
  });
  const a=out[0],z=out[out.length-1];
  if(Math.abs(a[0]-z[0])<.01&&Math.abs(a[1]-z[1])<.01) out.pop();
  return out;
}

panels.forEach((pn,i)=>{
  const st=styles[pn.k];
  grid.push({left:pn.l,top:pn.t,width:pn.r-pn.l,height:pn.b-pn.t,containLabel:false});
  xAxis.push({type:'value',gridIndex:i,min:.4,max:2.6,splitLine:{show:false},
    name:pn.xname||'',nameLocation:'middle',nameGap:st.xGap,nameMoveOverlap:false,nameTextStyle:{fontSize:st.nameFont,color:'#111',fontFamily:FONT},
    axisLine:{show:true,onZero:false,lineStyle:{color:st.axis,width:st.axW}},
    axisTick:{show:true,customValues:[1,2],length:st.tick,lineStyle:{color:st.axis,width:.7}},
    axisLabel:{customValues:[1,2],rotate:st.rot,margin:st.labMargin+1,fontSize:st.xFont,color:st.tickColor,fontFamily:FONT,formatter:v=>st.cats[v-1]}});
  yAxis.push({type:'value',gridIndex:i,min:pn.y[0],max:pn.y[1],splitLine:{show:false},
    name:pn.name,nameLocation:'middle',nameRotate:90,nameGap:pn.yGap,nameMoveOverlap:false,nameTextStyle:{fontSize:st.nameFont,color:st.nameColor,fontFamily:FONT},
    axisLine:{show:true,onZero:false,lineStyle:{color:st.axis,width:st.axW}},
    axisTick:{show:true,customValues:pn.ticks,length:st.tick,lineStyle:{color:st.axis,width:.7}},
    axisLabel:{customValues:pn.ticks,margin:3,fontSize:st.tickFont,color:st.tickColor,fontFamily:FONT,
      showMinLabel:true,showMaxLabel:true,formatter:v=>pn.labels[pn.ticks.indexOf(v)]}});

  [[pn.low,1,'Low'],[pn.high,2,'High']].forEach(([g,cx,tag],gi)=>{
    series.push({type:'custom',name:pn.k==='B'?riskCats[gi]:undefined,xAxisIndex:i,yAxisIndex:i,silent:true,clip:false,
      itemStyle:{color:st['violin'+tag]},data:[[cx,g.b[2]]],
      renderItem:(params,api)=>{
        const kids=[];
        const w=st.boxW;
        kids.push({type:'polygon',shape:{points:violinPts(api,cx,g.s),smooth:.25},style:{fill:st['violin'+tag],stroke:st.edge,lineWidth:st.vW}});
        if(pn.k==='B'){
          const [wl,q1,m,q3,wh]=g.b;
          kids.push({type:'line',shape:{x1:api.coord([cx,wl])[0],y1:api.coord([cx,wl])[1],x2:api.coord([cx,wh])[0],y2:api.coord([cx,wh])[1]},style:{stroke:'#222',lineWidth:.6}});
          const a=api.coord([cx-w,q3]),b=api.coord([cx+w,q1]);
          kids.push({type:'rect',shape:{x:a[0],y:a[1],width:b[0]-a[0],height:b[1]-a[1]},style:{fill:'#fff',stroke:'#333',lineWidth:st.bW}});
          const ml=api.coord([cx-w,m]),mr=api.coord([cx+w,m]);
          kids.push({type:'line',shape:{x1:ml[0],y1:ml[1],x2:mr[0],y2:mr[1]},style:{stroke:'#222',lineWidth:st.mW}});
        }else{
          const [wl,q1,nl,m,nu,q3,wh]=g.b;
          const nw=w*.8;
          const ln1=api.coord([cx,wl]),ln2=api.coord([cx,wh]);
          kids.push({type:'line',shape:{x1:ln1[0],y1:ln1[1],x2:ln2[0],y2:ln2[1]},style:{stroke:st.edge,lineWidth:st.vW}});
          const pts=[[cx-w,q1],[cx-w,nl],[cx-nw,m],[cx-w,nu],[cx-w,q3],[cx+w,q3],[cx+w,nu],[cx+nw,m],[cx+w,nl],[cx+w,q1]].map(d=>api.coord(d));
          kids.push({type:'polygon',shape:{points:pts},style:{fill:st['box'+tag],stroke:st.edge,lineWidth:st.bW}});
          const ml=api.coord([cx-nw,m]),mr=api.coord([cx+nw,m]);
          kids.push({type:'line',shape:{x1:ml[0],y1:ml[1],x2:mr[0],y2:mr[1]},style:{stroke:'#111',lineWidth:st.mW}});
        }
        return {type:'group',children:kids};
      }});
    if(g.p){
      const off=(i*7+gi*19);
      const pts=g.p.map((y,j)=>[cx+st.jit*jitter[(j+off)%jitter.length],y])
        .concat(g.c.map((y,j)=>[cx+st.jit*jitter[(j*3+off+11)%jitter.length],y]))
        .concat(g.t.map(d=>[cx+d[0],d[1]]));
      series.push({type:'scatter',xAxisIndex:i,yAxisIndex:i,silent:true,symbolSize:st.ps,data:pts,clip:false,
        itemStyle:{color:st['pt'+tag],borderColor:'#15333d',borderWidth:st.pb}});
    }
    if(g.o&&g.o.length){
      series.push({type:'scatter',xAxisIndex:i,yAxisIndex:i,silent:true,symbolSize:1.8,data:g.o.map(y=>[cx,y]),itemStyle:{color:'#000'}});
    }
  });

  series.push({type:'custom',xAxisIndex:i,yAxisIndex:i,silent:true,clip:false,data:[[1,pn.brk[0]]],
    renderItem:(params,api)=>{
      const a=api.coord([1,pn.brk[1]]),b=api.coord([1,pn.brk[0]]),c=api.coord([2,pn.brk[0]]),d=api.coord([2,pn.brk[1]]);
      const kids=[{type:'polyline',shape:{points:[a,b,c,d]},style:{fill:'none',stroke:st.brk,lineWidth:st.brkW}},
       {type:'text',style:{text:pn.p,x:(b[0]+c[0])/2,y:b[1]-.8,align:'center',verticalAlign:'bottom',fill:'#222',font:st.pFont+'px '+FONT}}];
      return {type:'group',children:kids};
    }});

  if(pn.leg){
    const top=pn.legTop||6.5;
    legend.push({left:pn.leg[1],top:top,orient:'horizontal',itemWidth:8,itemHeight:6,itemGap:5,padding:0,selectedMode:false,
      textStyle:{fontSize:4.5,color:'#222',fontFamily:FONT,padding:[0,0,0,-3]},
      data:riskCats.map((n,gi)=>({name:n,icon:'rect',itemStyle:{color:gi?'#00BFC4':'#F8766D',borderColor:'#333',borderWidth:.5}}))});
    graphic.push({type:'text',left:pn.leg[0],top:top+.5,style:{text:'Risk',font:'4.8px '+FONT,fill:'#222'},silent:true});
  }
});

[['A',1,1],['B',291,0],['C',2,293]].forEach(([t,x,y])=>graphic.push({type:'text',left:x,top:y,silent:true,style:{text:t,font:'16.5px '+FONT,fill:'#111'}}));

const chart=echarts.init(document.getElementById('c'),null,{renderer:'canvas'});
chart.setOption({animation:false,backgroundColor:'#fff',textStyle:{fontFamily:FONT},tooltip:{show:false},grid,xAxis,yAxis,series,legend,graphic});
</script></body></html>
